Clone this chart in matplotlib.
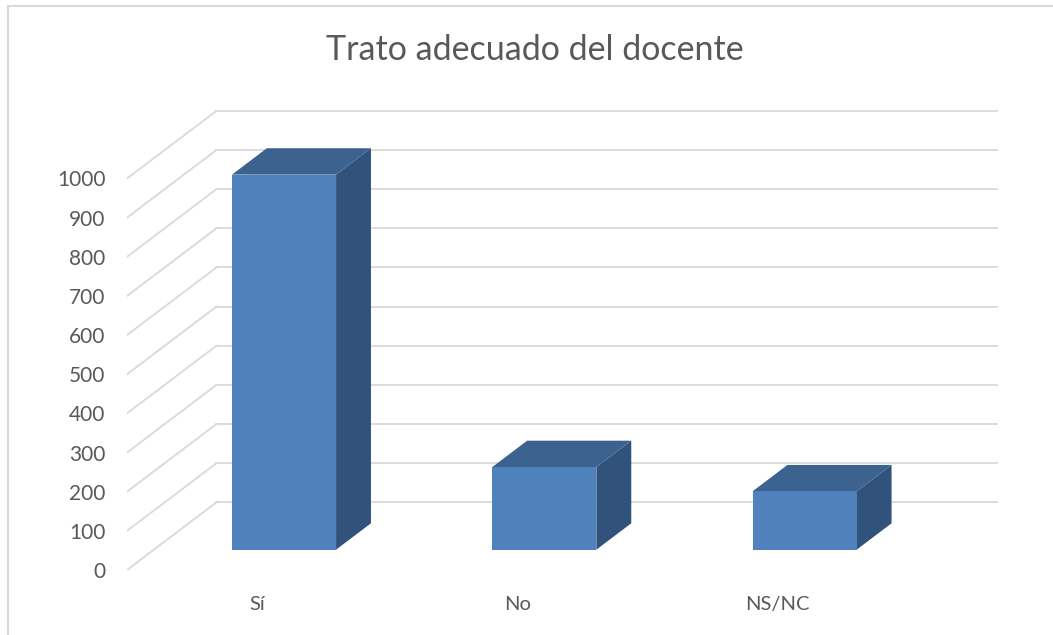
import matplotlib.pyplot as plt
from matplotlib.patches import Polygon
from matplotlib.lines import Line2D

# Datos
categorias = ["Sí", "No", "NS/NC"]
valores = [958, 211, 149]
ticks_y = [0, 100, 200, 300, 400, 500, 600, 700, 800, 900, 1000]

W, H = 1053, 635
fig = plt.figure(figsize=(W / 100, H / 100), dpi=100)
plt.rcParams["font.family"] = ["Lato", "DejaVu Sans"]

# escala en pixeles de la imagen
px_cat = 260.3      # pixeles por categoria
px_val = 0.3915     # pixeles por unidad de valor
x0_px, y0_px = 127, 570   # esquina frontal izquierda (valor 0)
right_px, top_px = 1000, 95

ax = fig.add_axes([x0_px / W, (H - y0_px) / H,
                   (right_px - x0_px) / W, (y0_px - top_px) / H])
ax.set_xlim(-0.5, -0.5 + (right_px - x0_px) / px_cat)
ax.set_ylim(0, (y0_px - top_px) / px_val)

# profundidad del "3D"
dx = 89.5 / px_cat
dy = 67.7 / px_val
z0, zd = 0.30, 0.39
ancho = 0.4
gris = "#d9d9d9"

# rejilla: pared del fondo y pared izquierda
for v in ticks_y:
    ax.plot([-0.5, -0.5 + dx], [v, v + dy], color=gris, lw=1.3, zorder=1)
    ax.plot([-0.5 + dx, 2.5 + dx], [v + dy, v + dy], color=gris, lw=1.3, zorder=1)

# barras
c_frente, c_arriba, c_lado = "#4f81bd", "#3c6390", "#31527a"
for i, v in enumerate(valores):
    xl = i - ancho / 2 + z0 * dx
    xr = i + ancho / 2 + z0 * dx
    yb = z0 * dy
    yt = v + z0 * dy
    bx, by = zd * dx, zd * dy
    ax.add_patch(Polygon([(xr, yb), (xr + bx, yb + by), (xr + bx, yt + by), (xr, yt)],
                         closed=True, fc=c_lado, ec="none", zorder=3))
    ax.add_patch(Polygon([(xl, yt), (xr, yt), (xr + bx, yt + by), (xl + bx, yt + by)],
                         closed=True, fc=c_arriba, ec="none", zorder=3))
    ax.add_patch(Polygon([(xl, yb), (xr, yb), (xr, yt), (xl, yt)],
                         closed=True, fc=c_frente, ec="none", zorder=4))

ax.set_yticks(ticks_y)
ax.set_yticklabels([str(t) for t in ticks_y])
ax.set_xticks(range(len(categorias)))
ax.set_xticklabels(categorias)
ax.tick_params(axis="y", length=0, pad=15.5, labelsize=15, labelcolor="#595959")
ax.tick_params(axis="x", length=0, pad=19, labelsize=14.5, labelcolor="#595959")
for s in ax.spines.values():
    s.set_visible(False)
ax.patch.set_alpha(0)

fig.text(535 / W, 1 - 50 / H, "Trato adecuado del docente", ha="center", va="center",
         fontsize=24.5, color="#595959")

# borde del grafico
fig.add_artist(Line2D([8 / W, 8 / W], [0, 1 - 6 / H], color=gris, lw=1.5))
fig.add_artist(Line2D([8 / W, 1], [1 - 6 / H, 1 - 6 / H], color=gris, lw=1.5))

fig.savefig("out.png", dpi=100)
